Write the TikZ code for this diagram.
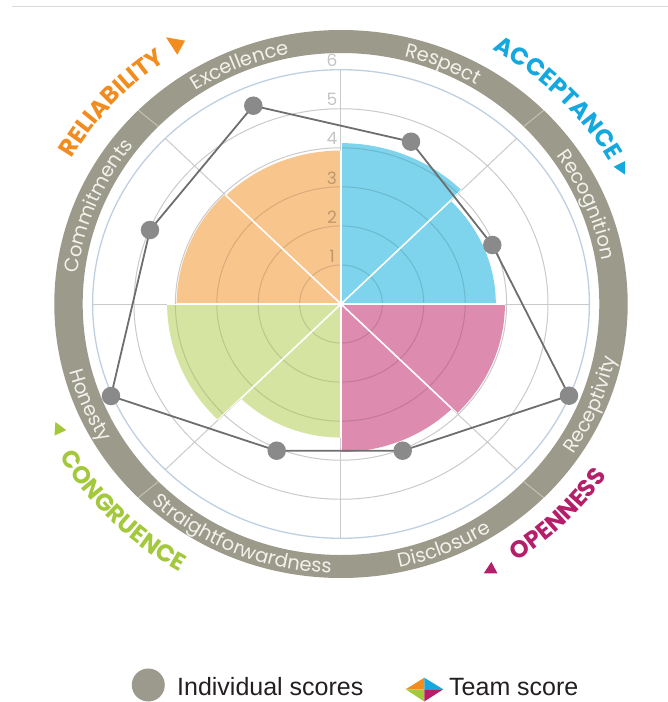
\documentclass[tikz,border=0pt]{standalone}
\usepackage{fontspec}
\setmainfont{Liberation Sans}
\newfontfamily\popfont{Poppins}
\usetikzlibrary{decorations.text}
\definecolor{ringc}{HTML}{9C9A8A}
\definecolor{ringsep}{HTML}{C4C2B4}
\definecolor{ringtxt}{HTML}{F2F2EC}
\definecolor{gridc}{HTML}{CACACA}
\definecolor{sixc}{HTML}{BFCFE2}
\definecolor{linec}{HTML}{6E6E6E}
\definecolor{dotc}{HTML}{8A8A8A}
\definecolor{fOr}{HTML}{F8C58D}
\definecolor{fBl}{HTML}{7DD4EC}
\definecolor{fGr}{HTML}{D6E4A1}
\definecolor{fPk}{HTML}{DE8BB0}
\definecolor{cOr}{HTML}{F28C1E}
\definecolor{cBl}{HTML}{14A8DE}
\definecolor{cGr}{HTML}{A3C83C}
\definecolor{cPk}{HTML}{B51F6A}
\definecolor{legtxt}{HTML}{231F20}
\definecolor{legdot}{HTML}{9C9A8C}
\definecolor{topline}{HTML}{DADADA}
\begin{document}
\begin{tikzpicture}[x=41.4pt,y=39.05pt,
  dot/.style={circle,fill=dotc,inner sep=0pt,minimum size=18.5pt},
  numlab/.style={text=black,text opacity=0.23,font=\popfont\fontsize{17}{17}\selectfont,inner sep=0pt},
  ringtext/.style={decorate,decoration={text along path,text align=center,text color=ringtxt,text={|\popfont\fontsize{19.5}{19.5}\selectfont|#1}}},
  cattext/.style 2 args={decorate,decoration={text along path,text align=center,text color=#1,text={|\popfont\bfseries\fontsize{24}{24}\selectfont|#2}}},
  legtext/.style={text=legtxt,font=\fontsize{25}{25}\selectfont,inner sep=0pt,anchor=base west}
]
\useasboundingbox (-341pt,-398pt) rectangle (327pt,304pt);
\draw[topline,line width=1pt] (-329pt,297pt) -- (327pt,297pt);

% grid
\foreach \s in {1,...,5}
  \draw[gridc,line width=1pt] (0,0) ellipse[x radius={41.4pt*\s}, y radius={39.05pt*\s}];
\draw[sixc,line width=1.3pt] (0,0) ellipse[x radius=248.4pt, y radius=234.3pt];
\foreach \sa in {0,45,...,315}
  \draw[gridc,line width=1pt] (0,0) -- (\sa:6);

% team sectors
\foreach \sa/\sb/\sr/\sc in {0/45/3.74/fBl,45/90/4.12/fBl,90/135/3.93/fOr,135/180/3.97/fOr,180/225/4.2/fGr,225/270/3.42/fGr,270/315/3.79/fPk,315/360/3.96/fPk}
  \fill[\sc] (0,0) -- plot[domain=\sa:\sb,samples=40,variable=\t] (\t:\sr) -- cycle;

\begin{scope}
\clip (0,0) -- plot[domain=0:45,samples=40,variable=\t] (\t:3.74) -- cycle
      (0,0) -- plot[domain=45:90,samples=40,variable=\t] (\t:4.12) -- cycle
      (0,0) -- plot[domain=90:135,samples=40,variable=\t] (\t:3.93) -- cycle
      (0,0) -- plot[domain=135:180,samples=40,variable=\t] (\t:3.97) -- cycle
      (0,0) -- plot[domain=180:225,samples=40,variable=\t] (\t:4.2) -- cycle
      (0,0) -- plot[domain=225:270,samples=40,variable=\t] (\t:3.42) -- cycle
      (0,0) -- plot[domain=270:315,samples=40,variable=\t] (\t:3.79) -- cycle
      (0,0) -- plot[domain=315:360,samples=40,variable=\t] (\t:3.96) -- cycle;
\foreach \s in {1,...,5}
  \draw[black,opacity=0.13,line width=1pt] (0,0) ellipse[x radius={41.4pt*\s}, y radius={39.05pt*\s}];
\foreach \sa in {0,45,...,315}
  \draw[white,line width=1.6pt] (0,0) -- (\sa:6);
\end{scope}

% score numbers
\foreach \s in {1,...,6}
  \node[numlab] (n\s) at (-9pt,{(39.05*\s+9)*1pt}) {\s};

% individual scores
\coordinate (pExc) at (-87.7pt,198.3pt);
\coordinate (pRes) at (70pt,162.3pt);
\coordinate (pRec) at (151.3pt,59pt);
\coordinate (pRcp) at (228pt,-91.7pt);
\coordinate (pDis) at (61.7pt,-146.7pt);
\coordinate (pStr) at (-64.3pt,-146.7pt);
\coordinate (pHon) at (-230pt,-92pt);
\coordinate (pCom) at (-191pt,74pt);
\draw[linec,line width=1.8pt,line join=round] (pExc) -- (pRes) -- (pRec) -- (pRcp) -- (pDis) -- (pStr) -- (pHon) -- (pCom) -- cycle;
\foreach \p in {Exc,Res,Rec,Rcp,Dis,Str,Hon,Com}
  \node[dot] (d\p) at (p\p) {};

% ring
\fill[ringc,even odd rule] (0,0) ellipse[x radius=286.7pt,y radius=274pt] (0,0) ellipse[x radius=258.3pt,y radius=251pt];
\foreach \sa in {45,135,225,315}
  \draw[ringsep,line width=1pt] (\sa:258.3pt and 251pt) -- (\sa:286.7pt and 274pt);

% ring labels (top: clockwise, bottom: counterclockwise)
\path[ringtext=Commitments] (192.5:265pt and 255pt) arc[start angle=192.5,end angle=122.5,x radius=265pt,y radius=255pt];
\path[ringtext=Excellence] (147.5:265pt and 255pt) arc[start angle=147.5,end angle=77.5,x radius=265pt,y radius=255pt];
\path[ringtext=Respect] (102.5:265pt and 255pt) arc[start angle=102.5,end angle=32.5,x radius=265pt,y radius=255pt];
\path[ringtext=Recognition] (57.5:265pt and 255pt) arc[start angle=57.5,end angle=-12.5,x radius=265pt,y radius=255pt];
\path[ringtext=Receptivity] (-57.5:280pt and 269.5pt) arc[start angle=-57.5,end angle=12.5,x radius=280pt,y radius=269.5pt];
\path[ringtext=Disclosure] (-102.5:280pt and 269.5pt) arc[start angle=-102.5,end angle=-32.5,x radius=280pt,y radius=269.5pt];
\path[ringtext=Straightforwardness] (-147.5:280pt and 269.5pt) arc[start angle=-147.5,end angle=-77.5,x radius=280pt,y radius=269.5pt];
\path[ringtext=Honesty] (-192.5:280pt and 269.5pt) arc[start angle=-192.5,end angle=-122.5,x radius=280pt,y radius=269.5pt];

% category labels
\path[cattext={cOr}{RELIABILITY}] (178:309pt and 295pt) arc[start angle=178,end angle=98,x radius=309pt,y radius=295pt];
\path[cattext={cBl}{ACCEPTANCE}] (84.3:307pt and 292pt) arc[start angle=84.3,end angle=4.3,x radius=307pt,y radius=292pt];
\path[cattext={cGr}{CONGRUENCE}] (184.4:323pt and 309pt) arc[start angle=184.4,end angle=264.4,x radius=323pt,y radius=309pt];
\path[cattext={cPk}{OPENNESS}] (-85:321pt and 307pt) arc[start angle=-85,end angle=-5,x radius=321pt,y radius=307pt];

% category triangles
\fill[cOr] (-175pt,266.7pt) -- (-156pt,263.3pt) -- (-163.7pt,249.3pt) -- cycle;
\fill[cBl,shift={(280.7pt,135.7pt)},rotate=-63] (7pt,0pt) -- (-5pt,6.5pt) -- (-5pt,-6.5pt) -- cycle;
\fill[cGr,shift={(-282.7pt,-124.3pt)},rotate=114.7] (7pt,0pt) -- (-5pt,6.5pt) -- (-5pt,-6.5pt) -- cycle;
\fill[cPk,shift={(149pt,-266pt)},rotate=-152] (7pt,0pt) -- (-5pt,6.5pt) -- (-5pt,-6.5pt) -- cycle;

% legend
\node[circle,fill=legdot,inner sep=0pt,minimum size=33pt] (legdot) at (-192.7pt,-381pt) {};
\node[legtext] (legind) at (-164pt,-391pt) {Individual scores};
\coordinate (tc) at (83.3pt,-385.3pt);
\coordinate (tt) at (83.3pt,-373.7pt);
\coordinate (tl) at (64.7pt,-385.3pt);
\coordinate (tr) at (102.3pt,-385.3pt);
\coordinate (tb) at (83.3pt,-397.5pt);
\fill[cOr] (tc) -- (tl) -- (tt) -- cycle;
\fill[cBl] (tc) -- (tt) -- (tr) -- cycle;
\fill[cGr] (tc) -- (tl) -- (tb) -- cycle;
\fill[cPk] (tc) -- (tr) -- (tb) -- cycle;
\node[legtext] (legteam) at (108pt,-391pt) {Team score};
\end{tikzpicture}
\end{document}
